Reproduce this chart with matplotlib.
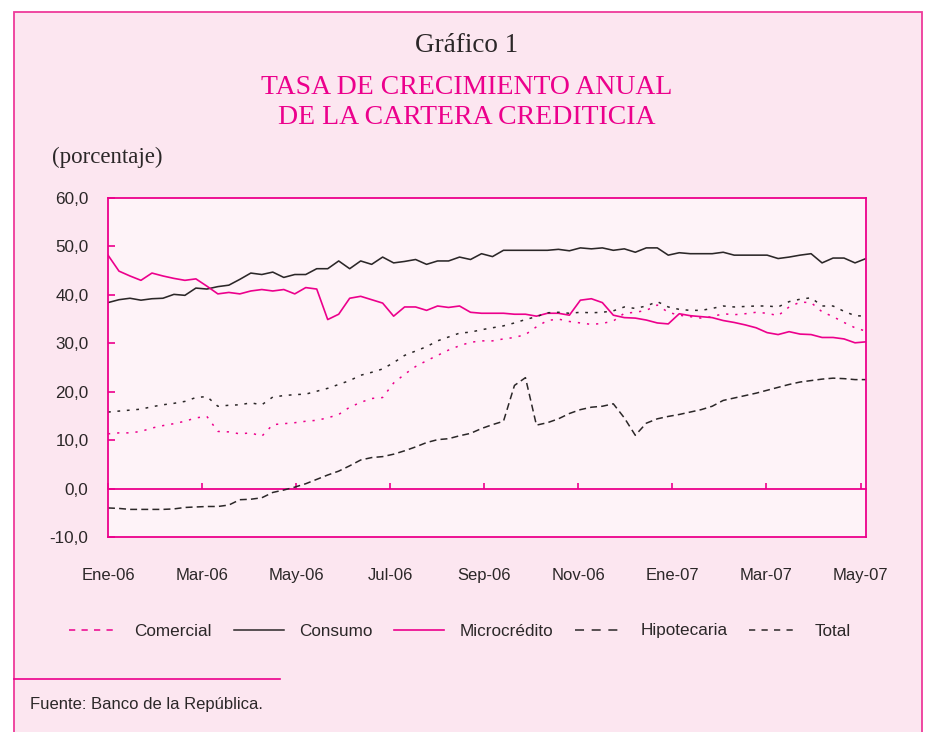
import matplotlib.pyplot as plt
import numpy as np
from matplotlib.lines import Line2D
from matplotlib.patches import Rectangle

plt.rcParams['lines.scale_dashes'] = False

# weekly observations, Ene-06 .. May-07
comercial = [11.3, 11.5, 11.5, 11.8, 12.5, 13.0, 13.4, 13.9, 14.6, 14.9,
             11.8, 11.7, 11.3, 11.5, 10.8, 13.2, 13.4, 13.6, 13.9, 14.1,
             14.6, 15.3, 16.8, 17.8, 18.6, 18.8, 21.8, 23.6, 25.2, 26.4,
             27.5, 28.6, 29.5, 30.2, 30.5, 30.5, 30.9, 31.2, 31.8, 33.4,
             34.7, 35.0, 34.5, 34.2, 33.9, 34.1, 34.6, 36.2, 36.4, 36.8,
             37.9, 36.4, 35.8, 35.5, 35.2, 35.5, 36.1, 35.9, 36.1, 36.4,
             36.2, 35.7, 37.5, 38.5, 38.4, 36.5, 35.5, 34.3, 33.2, 32.5]
consumo = [38.4, 39.0, 39.3, 38.9, 39.2, 39.3, 40.1, 39.9, 41.4, 41.2,
           41.7, 42.0, 43.2, 44.5, 44.2, 44.7, 43.6, 44.2, 44.2, 45.4,
           45.4, 47.0, 45.4, 47.0, 46.3, 47.8, 46.6, 46.9, 47.3, 46.3,
           47.0, 47.0, 47.8, 47.3, 48.5, 47.9, 49.2, 49.2, 49.2, 49.2,
           49.2, 49.4, 49.1, 49.7, 49.5, 49.7, 49.2, 49.5, 48.8, 49.7,
           49.7, 48.2, 48.7, 48.5, 48.5, 48.5, 48.8, 48.2, 48.2, 48.2,
           48.2, 47.5, 47.8, 48.2, 48.5, 46.6, 47.6, 47.6, 46.6, 47.5]
microcredito = [48.2, 44.9, 43.9, 43.0, 44.5, 43.9, 43.4, 43.0, 43.3, 41.8,
                40.2, 40.5, 40.2, 40.8, 41.1, 40.8, 41.1, 40.2, 41.5, 41.2,
                34.9, 36.0, 39.3, 39.7, 39.0, 38.3, 35.6, 37.5, 37.5, 36.8,
                37.7, 37.4, 37.7, 36.4, 36.2, 36.2, 36.2, 36.0, 36.0, 35.6,
                36.2, 36.2, 35.8, 38.9, 39.2, 38.4, 35.8, 35.3, 35.2, 34.8,
                34.2, 34.0, 36.1, 35.7, 35.5, 35.3, 34.7, 34.3, 33.8, 33.2,
                32.2, 31.8, 32.4, 31.9, 31.8, 31.2, 31.2, 30.9, 30.1, 30.3]
hipotecaria = [-4.0, -4.1, -4.3, -4.3, -4.3, -4.3, -4.2, -3.9, -3.8, -3.7,
               -3.7, -3.4, -2.3, -2.2, -1.9, -0.8, -0.3, 0.3, 1.0, 1.9,
               2.8, 3.6, 4.7, 5.9, 6.4, 6.6, 7.1, 7.8, 8.6, 9.5,
               10.1, 10.3, 10.9, 11.4, 12.4, 13.2, 13.9, 21.3, 22.9, 13.1,
               13.6, 14.4, 15.5, 16.3, 16.8, 17.0, 17.5, 14.6, 11.0, 13.5,
               14.4, 14.9, 15.3, 15.8, 16.3, 17.0, 18.2, 18.7, 19.2, 19.7,
               20.3, 20.9, 21.5, 22.0, 22.3, 22.6, 22.8, 22.7, 22.5, 22.5]
total = [15.8, 16.0, 16.2, 16.4, 16.9, 17.3, 17.6, 18.0, 18.8, 19.0,
         17.0, 17.2, 17.3, 17.7, 17.3, 18.9, 19.2, 19.4, 19.5, 20.1,
         20.7, 21.5, 22.3, 23.4, 24.0, 24.7, 26.0, 27.5, 28.4, 29.3,
         30.5, 31.3, 32.1, 32.3, 32.8, 33.2, 33.6, 34.2, 34.9, 35.5,
         36.3, 36.4, 36.2, 36.4, 36.3, 36.4, 36.7, 37.5, 37.2, 37.7,
         38.6, 37.5, 37.0, 36.8, 36.8, 37.2, 37.7, 37.5, 37.6, 37.7,
         37.7, 37.5, 38.6, 39.1, 39.4, 37.7, 37.7, 36.6, 35.7, 35.6]

tick_labels = ['Ene-06', 'Mar-06', 'May-06', 'Jul-06', 'Sep-06',
               'Nov-06', 'Ene-07', 'Mar-07', 'May-07']
y_ticks = [-10, 0, 10, 20, 30, 40, 50, 60]

pink = '#EC008C'
dark = '#2B2728'
frame_pink = '#EE3A9A'
sans = ['Liberation Sans', 'DejaVu Sans']
serif = ['Liberation Serif', 'DejaVu Serif']

W, H = 925, 732
fig = plt.figure(figsize=(W / 100, H / 100), dpi=100)
fig.patch.set_facecolor('white')

# outer pink frame (open at the bottom)
fig.patches.append(Rectangle((13.5 / W, -0.05), (921.5 - 13.5) / W, 1 - 12 / H + 0.05,
                             transform=fig.transFigure, facecolor='#FCE6F0',
                             edgecolor=frame_pink, lw=1.3, zorder=-5))

ax = fig.add_axes([108 / W, 1 - 537 / H, (866 - 108) / W, (537 - 198) / H])
ax.set_facecolor('#FEF3F8')

x = np.arange(len(consumo))
ax.plot(x, consumo, color=dark, lw=1.15)
ax.plot(x, microcredito, color=pink, lw=1.2)
ax.plot(x, hipotecaria, color=dark, lw=1.1, dashes=(5, 3))
ax.plot(x, total, color=dark, lw=1.1, dashes=(2, 4.8))
ax.plot(x, comercial, color=pink, lw=1.1, dashes=(1.6, 5))

tick_pos = np.linspace(0, 68.5, len(tick_labels))
ax.set_xlim(0, len(consumo) - 1)
ax.set_ylim(-10, 60)
ax.set_xticks(tick_pos)
ax.set_xticklabels(tick_labels, family=sans, fontsize=12, color=dark)
ax.tick_params(axis='x', length=0, pad=22)
ax.set_yticks(y_ticks)
ax.set_yticklabels([f'{v:.1f}'.replace('.', ',') for v in y_ticks],
                   family=sans, fontsize=12.3, color=dark)
ax.tick_params(axis='y', direction='in', length=5, width=1.2, color=pink, pad=14)
for s in ax.spines.values():
    s.set_color(pink)
    s.set_linewidth(1.3)

# zero line with tick marks
zero = ax.secondary_xaxis(10 / 70)
zero.set_xticks(tick_pos)
zero.set_xticklabels([])
zero.tick_params(direction='in', length=4.5, width=1.2, color=pink)
zero.spines['bottom'].set_color(pink)
zero.spines['bottom'].set_linewidth(1.3)

# titles
fig.text(467 / W, 1 - 46 / H, 'Gráfico 1', ha='center', va='center',
         family=serif, fontsize=19.5, color=dark)
fig.text(467 / W, 1 - 88 / H, 'TASA DE CRECIMIENTO ANUAL', ha='center', va='center',
         family=serif, fontsize=20, color=pink)
fig.text(467 / W, 1 - 118 / H, 'DE LA CARTERA CREDITICIA', ha='center', va='center',
         family=serif, fontsize=20, color=pink)
fig.text(52 / W, 1 - 157 / H, '(porcentaje)', ha='left', va='center',
         family=serif, fontsize=16.5, color=dark)

# legend
handles = [Line2D([], [], color=pink, lw=1.1, dashes=(4.5, 4.5)),
           Line2D([], [], color=dark, lw=1.1),
           Line2D([], [], color=pink, lw=1.2),
           Line2D([], [], color=dark, lw=1.1, dashes=(6.5, 5.5)),
           Line2D([], [], color=dark, lw=1.1, dashes=(4.5, 4.5))]
names = ['Comercial', 'Consumo', 'Microcrédito', 'Hipotecaria', 'Total']
fig.legend(handles, names, loc='center', bbox_to_anchor=(460 / W, 1 - 631 / H),
           ncol=5, frameon=False, handlelength=2.9, handletextpad=0.9,
           columnspacing=1.3, prop={'family': sans, 'size': 12.3},
           labelcolor=dark)

# source
fig.add_artist(Line2D([14 / W, 280 / W], [1 - 679 / H] * 2, color=pink, lw=1.2))
fig.text(30 / W, 1 - 705 / H, 'Fuente: Banco de la República.', ha='left', va='center',
         family=sans, fontsize=12, color=dark)

fig.savefig('out.png', dpi=100, facecolor=fig.get_facecolor())
